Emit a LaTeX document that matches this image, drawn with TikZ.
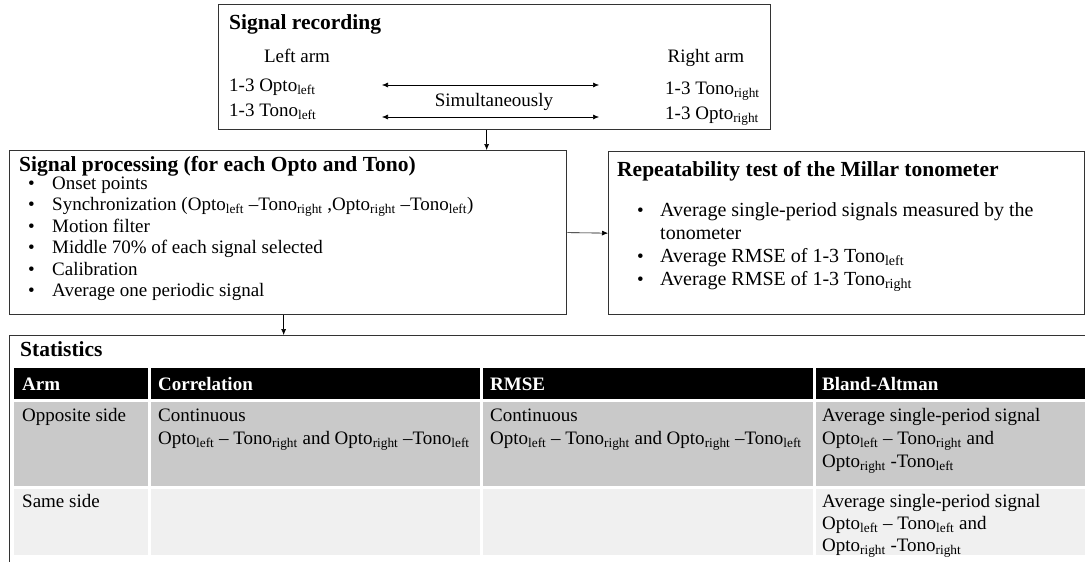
\documentclass[tikz,border=0pt]{standalone}
\usepackage{fontspec}
\setmainfont{Liberation Serif}
\usetikzlibrary{arrows.meta}
\newcommand\lsub[1]{\textsubscript{#1}}
\begin{document}
\begin{tikzpicture}[x=1pt,y=-1pt,
  box/.style={draw=black!80, line width=1.3pt, inner sep=0pt, anchor=north west},
  txt/.style={anchor=base west, inner sep=0pt, font=\fontsize{19}{22}\selectfont},
  rtxt/.style={anchor=base west, inner sep=0pt, font=\fontsize{20}{23}\selectfont},
  ctxt/.style={anchor=base, inner sep=0pt, font=\fontsize{19}{22}\selectfont},
  ttl/.style={anchor=base west, inner sep=0pt, font=\fontsize{21.5}{24}\selectfont\bfseries},
  hdr/.style={anchor=base west, inner sep=0pt, text=white, font=\fontsize{19}{22}\selectfont\bfseries},
  bul/.style={anchor=base west, inner sep=0pt, font=\fontsize{19}{22}\selectfont},
  arr/.style={-{Latex[length=6pt,width=5pt]}, line width=0.6pt},
  darr/.style={{Latex[length=6pt,width=5pt]}-{Latex[length=6pt,width=5pt]}, line width=0.6pt},
  hcell/.style={fill=black, draw=none, inner sep=0pt, anchor=north west},
  gcell/.style={fill=black!21, draw=none, inner sep=0pt, anchor=north west},
  lcell/.style={fill=black!6, draw=none, inner sep=0pt, anchor=north west},
]
\useasboundingbox (0,0) rectangle (1085,562);
\clip (0,0) rectangle (1085,562);

% ---------- Signal recording ----------
\node[box, minimum width=552pt, minimum height=125pt] (rec) at (218,4) {};
\node[ttl] (recT) at (229,29) {Signal recording};
\node[ctxt] (la) at (297,62) {Left arm};
\node[ctxt] (ra) at (706,62) {Right arm};
\node[txt] (ol) at (229,91) {1-3 Opto\lsub{left}};
\node[txt] (tl) at (229,116) {1-3 Tono\lsub{left}};
\node[txt] (tr) at (665,94) {1-3 Tono\lsub{right}};
\node[txt] (orr) at (665,119) {1-3 Opto\lsub{right}};
\coordinate (a1l) at (382,85);
\coordinate (a1r) at (599,85);
\coordinate (a2l) at (382,117);
\coordinate (a2r) at (599,117);
\draw[darr] (a1l) -- (a1r);
\draw[darr] (a2l) -- (a2r);
\node[ctxt] (sim) at (494,106) {Simultaneously};

% ---------- Signal processing ----------
\node[box, minimum width=557pt, minimum height=164pt] (proc) at (9,150) {};
\node[ttl] (procT) at (19,171) {Signal processing (for each Opto and Tono)};
\foreach \y/\t [count=\i] in {189/{Onset points},
  210/{Synchronization (Opto\lsub{left} –Tono\lsub{right} ,Opto\lsub{right} –Tono\lsub{left})},
  232/{Motion filter},
  253/{Middle 70\% of each signal selected},
  275/{Calibration},
  296/{Average one periodic signal}}{
  \node[bul] (pb\i) at (28,\y) {•};
  \node[txt] (pt\i) at (52,\y) {\t};
}

% ---------- Repeatability ----------
\node[box, minimum width=476pt, minimum height=163pt] (rep) at (608,151) {};
\node[ttl] (repT) at (617,176) {Repeatability test of the Millar tonometer};
\node[bul] (rb1) at (637,216) {•};
\node[rtxt] (rt1) at (660,216) {Average single-period signals measured by the};
\node[rtxt] (rt1b) at (660,239) {tonometer};
\node[bul] (rb2) at (637,262) {•};
\node[rtxt] (rt2) at (660,262) {Average RMSE of 1-3 Tono\lsub{left}};
\node[bul] (rb3) at (637,285) {•};
\node[rtxt] (rt3) at (660,285) {Average RMSE of 1-3 Tono\lsub{right}};

% ---------- Statistics ----------
\node[box, minimum width=1100pt, minimum height=260pt] (stat) at (9,335) {};
\node[ttl] (statT) at (20,356) {Statistics};

% header row
\node[hcell, minimum width=134pt, minimum height=31pt] (h1) at (14,368) {};
\node[hcell, minimum width=329pt, minimum height=31pt] (h2) at (151,368) {};
\node[hcell, minimum width=330pt, minimum height=31pt] (h3) at (483,368) {};
\node[hcell, minimum width=280pt, minimum height=31pt] (h4) at (816,368) {};
% row 1
\node[gcell, minimum width=134pt, minimum height=84pt] (g1) at (14,402) {};
\node[gcell, minimum width=329pt, minimum height=84pt] (g2) at (151,402) {};
\node[gcell, minimum width=330pt, minimum height=84pt] (g3) at (483,402) {};
\node[gcell, minimum width=280pt, minimum height=84pt] (g4) at (816,402) {};
% row 2
\node[lcell, minimum width=134pt, minimum height=66pt] (l1) at (14,489) {};
\node[lcell, minimum width=329pt, minimum height=66pt] (l2) at (151,489) {};
\node[lcell, minimum width=330pt, minimum height=66pt] (l3) at (483,489) {};
\node[lcell, minimum width=280pt, minimum height=66pt] (l4) at (816,489) {};

\node[hdr] (hx1) at (22,390) {Arm};
\node[hdr] (hx2) at (158,390) {Correlation};
\node[hdr] (hx3) at (490,390) {RMSE};
\node[hdr] (hx4) at (822,390) {Bland-Altman};

\node[txt] (c11) at (22,421) {Opposite side};
\node[txt] (c12a) at (158,421) {Continuous};
\node[txt] (c12b) at (158,444) {Opto\lsub{left} – Tono\lsub{right} and Opto\lsub{right} –Tono\lsub{left}};
\node[txt] (c13a) at (490,421) {Continuous};
\node[txt] (c13b) at (490,444) {Opto\lsub{left} – Tono\lsub{right} and Opto\lsub{right} –Tono\lsub{left}};
\node[txt] (c14a) at (822,421) {Average single-period signal};
\node[txt] (c14b) at (822,444) {Opto\lsub{left} – Tono\lsub{right} and};
\node[txt] (c14c) at (822,467) {Opto\lsub{right} -Tono\lsub{left}};

\node[txt] (c21) at (22,507) {Same side};
\node[txt] (c24a) at (822,507) {Average single-period signal};
\node[txt] (c24b) at (822,529) {Opto\lsub{left} – Tono\lsub{left} and};
\node[txt] (c24c) at (822,551) {Opto\lsub{right} -Tono\lsub{right}};

% ---------- connectors ----------
\draw[arr] ([xshift=-8pt]rec.south) -- ([xshift=-8pt]rec.south |- proc.north);
\draw[arr] (proc.east) -- (rep.west);
\draw[arr] ([xshift=-4.5pt]proc.south) -- ([xshift=-4.5pt]proc.south |- stat.north);
\end{tikzpicture}
\end{document}
